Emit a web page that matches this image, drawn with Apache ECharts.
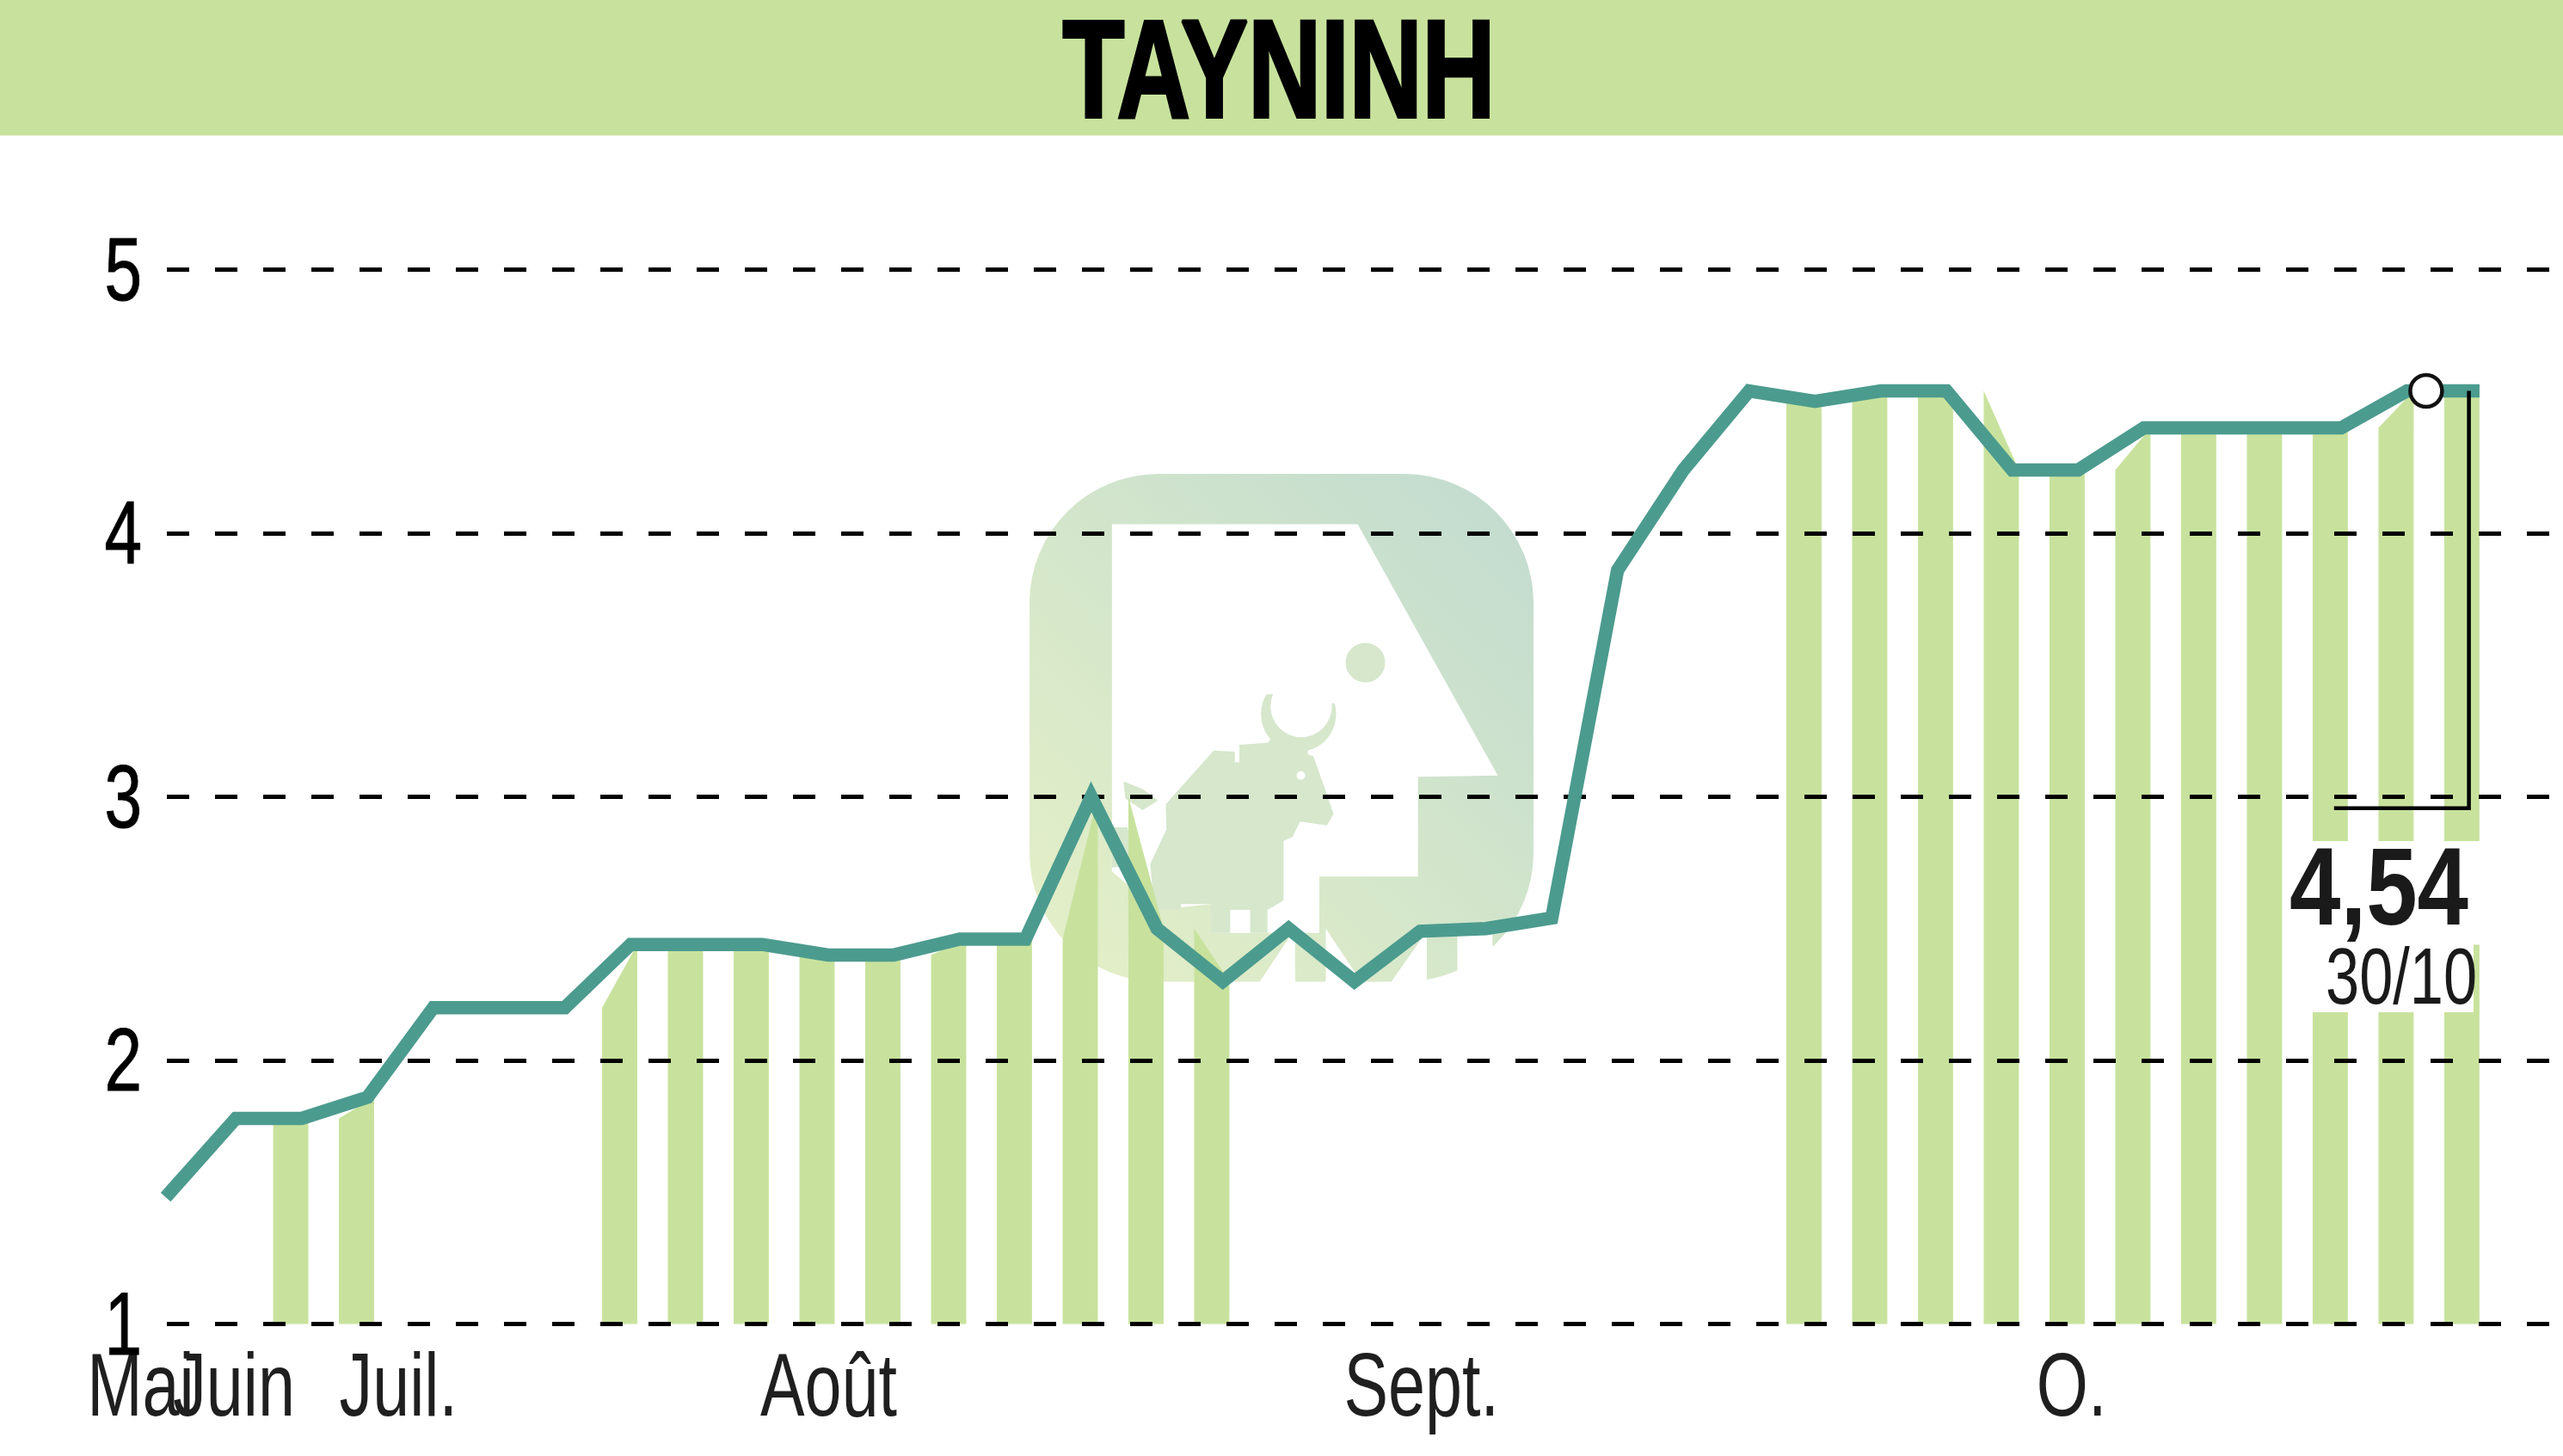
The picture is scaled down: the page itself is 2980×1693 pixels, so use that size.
<!DOCTYPE html>
<html><head><meta charset="utf-8">
<style>html,body{margin:0;padding:0;background:#fff}#c{width:2980px;height:1693px}</style>
<script src="https://cdn.jsdelivr.net/npm/echarts@6/dist/echarts.min.js"></script>
</head><body><div id="c"></div>
<script>
const title = 'TAYNINH';
const prices = [1.5,1.78,1.78,1.86,2.2,2.2,2.2,2.44,2.44,2.44,2.4,2.4,2.46,2.46,3.0,2.5,2.3,2.5,2.3,2.49,2.5,2.54,3.86,4.24,4.54,4.5,4.54,4.54,4.24,4.24,4.4,4.4,4.4,4.4,4.54,4.54];
const greenStripes = [2,3,7,8,9,10,11,12,13,14,15,16,25,26,27,28,29,30,31,32,33,34,35];
const blankStripes = [17,18,19,20,21,22,23,24];
const monthLabels = ['Mai','Juin','Juil.','Août','Sept.','O.'];
const monthCenters = [-0.45,0.97,3.47,10.01,19.02,28.9];
const yTicks = [1,2,3,4,5];
const lastValue = '4,54';
const lastDate = '30/10';
const markerPoint = [[34.29,4.54]];
const bracket = [[32.89,2.957],[34.94,2.957],[34.94,4.54]];

const GREEN='#C8E29D', TEAL='#4C9B8F', FONT='"Liberation Sans",sans-serif';
const STRIPE_L=-0.435, STRIPE_R=0.1;
const lz=(x,y)=>[1150+x/2.24,500+y/2.24];
const pts=a=>a.map(p=>lz(p[0],p[1]));
const logoFill={type:'linear',x:0,y:1,x2:1,y2:0,colorStops:[{offset:0,color:'#E5F0C6'},{offset:1,color:'#C1DBD0'}]};
const bullFill='#D6E7CC';

function stripeSeries(list,color,name){
  return {type:'custom',name,z:2,silent:true,clip:false,
    data:list.map(i=>[i,i>0?prices[i-1]:prices[i],prices[i]]),
    renderItem(p,api){
      const i=api.value(0),a=api.value(1),b=api.value(2);
      const L=i+STRIPE_L,R=i+STRIPE_R;
      const p0=api.coord([L,1]),p1=api.coord([L,a]),p2=api.coord([R,b]),p3=api.coord([R,1]);
      return {type:'polygon',shape:{points:[p0,p1,p2,p3]},style:{fill:color}};
    }};
}
const chart=echarts.init(document.getElementById('c'),null,{renderer:'canvas'});
chart.setOption({
  animation:false,backgroundColor:'#fff',
  grid:{left:194,right:0,top:313.5,bottom:153.5},
  xAxis:{type:'value',min:-0.05,max:36.37,splitLine:{show:false},axisLine:{show:false},axisTick:{show:false},axisLabel:{show:false}},
  yAxis:{type:'value',min:yTicks[0],max:yTicks[yTicks.length-1],interval:1,z:3,axisLine:{show:false},axisTick:{show:false},axisLabel:{show:false},
    splitLine:{lineStyle:{color:'#000',width:5,type:[26,30]}}},
  graphic:{elements:[
    {type:'rect',z:-5,shape:{x:0,y:0,width:2980,height:157.5},style:{fill:GREEN}},
    {type:'text',z:10,x:1487,y:92,scaleX:0.73,style:{text:title,font:'bold 161px '+FONT,fill:'#000',stroke:'#000',lineWidth:4,textAlign:'center',textVerticalAlign:'middle'}},
    {type:'rect',z:-5,shape:{x:1197,y:551,width:586,height:590.5,r:150},style:{fill:logoFill}},
    {type:'polygon',z:-4,shape:{points:pts([[320,245],[960,245],[1325,900],[1117,903],[1117,1163],[860,1163],[860,1310],[725,1310],[578,1310],[578,1235],[440,1250],[320,1150],[320,950]])},style:{fill:'#fff'}},
    {type:'circle',z:-3.5,shape:{cx:lz(806,0)[0],cy:lz(0,740)[1],r:98/2.24},style:{fill:bullFill}},
    {type:'circle',z:-3.4,shape:{cx:lz(813,0)[0],cy:lz(0,720)[1],r:80/2.24},style:{fill:'#fff'}},
    {type:'polygon',z:-3.3,shape:{points:pts([[700,625],[915,625],[915,712],[895,712],[745,688],[700,688]])},style:{fill:'#fff'}},
    {type:'polygon',z:-3,shape:{points:pts([[460,975],[585,835],[640,838],[640,865],[652,865],[652,820],[725,815],[740,800],[830,830],[830,845],[845,850],[880,950],[897,1000],[880,1030],[810,1020],[790,1060],[767,1070],[767,1225],[725,1250],[725,1310],[680,1310],[680,1250],[628,1250],[628,1310],[578,1310],[578,1235],[500,1235],[500,1248],[430,1250],[420,1130],[462,1040]])},style:{fill:bullFill}},
    {type:'polygon',z:-3,shape:{points:pts([[350,915],[400,935],[440,965],[400,990],[355,960]])},style:{fill:bullFill}},
    {type:'polygon',z:-3,shape:{points:pts([[320,1035],[360,1035],[390,1130],[320,1140]])},style:{fill:bullFill}},
    {type:'circle',z:-3,shape:{cx:lz(980,0)[0],cy:lz(0,606)[1],r:23},style:{fill:bullFill}},
    {type:'circle',z:-2,shape:{cx:lz(812,0)[0],cy:lz(0,900)[1],r:5},style:{fill:'#fff'}},
    {type:'rect',z:4,shape:{x:2685,y:978,width:191,height:199},style:{fill:'#fff'}},
    {type:'rect',z:4,shape:{x:2876,y:978,width:8,height:120.5},style:{fill:'#fff'}},
    {type:'text',z:10,x:2662,y:1040,scaleX:0.835,style:{text:lastValue,font:'bold 128px '+FONT,fill:'#1a1a1a',textAlign:'left',textVerticalAlign:'middle'}},
    {type:'text',z:10,x:2704,y:1142,scaleX:0.765,style:{text:lastDate,font:'92px '+FONT,fill:'#1a1a1a',textAlign:'left',textVerticalAlign:'middle'}}
  ]},
  series:[
    stripeSeries(blankStripes,'#fff','blank'),
    stripeSeries(greenStripes,GREEN,'stripes'),
    {type:'line',name:'price',z:5,showSymbol:false,silent:true,clip:false,data:prices.map((v,i)=>[i,v]),
      lineStyle:{color:TEAL,width:15.5,cap:'square',join:'miter'}},
    {type:'line',name:'bracket',z:6,showSymbol:false,silent:true,clip:false,data:bracket,
      lineStyle:{color:'#000',width:4.5,cap:'butt',join:'miter'}},
    {type:'scatter',name:'last',z:7,silent:true,data:markerPoint,symbol:'circle',symbolSize:37,
      itemStyle:{color:'#fff',borderColor:'#111',borderWidth:4.5,opacity:1}},
    {type:'custom',name:'months',z:10,silent:true,clip:false,data:monthCenters.map((c,i)=>[c,i]),
      renderItem(p,api){
        const c=api.coord([api.value(0),1]);
        return {type:'text',x:c[0],y:c[1]+78,scaleX:0.75,style:{text:monthLabels[api.value(1)],font:'103px '+FONT,fill:'#1f1f1f',textAlign:'center',textVerticalAlign:'middle'}};
      }},
    {type:'custom',name:'yLabels',z:10,silent:true,clip:false,data:yTicks.map(v=>[0,v]),
      renderItem(p,api){
        const c=api.coord([-0.05,api.value(1)]);
        return {type:'text',x:c[0]-29,y:c[1]+7,scaleX:0.76,style:{text:String(api.value(1)),font:'103px '+FONT,fill:'#000',stroke:'#000',lineWidth:1,textAlign:'right',textVerticalAlign:'middle'}};
      }}
  ]
});
</script></body></html>
